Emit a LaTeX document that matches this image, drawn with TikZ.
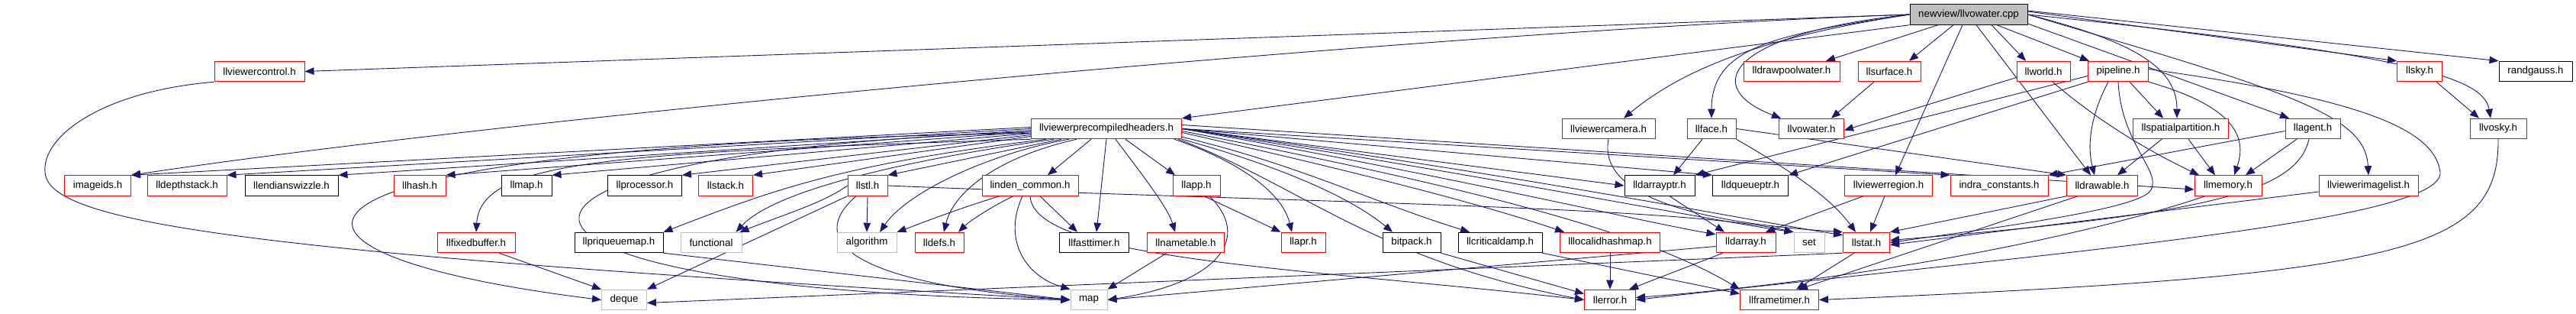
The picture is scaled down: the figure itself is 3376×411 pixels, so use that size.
\documentclass[tikz,border=0pt]{standalone}
\usepackage{fontspec}
\setmainfont{Liberation Sans}
\usetikzlibrary{arrows.meta,calc}
\definecolor{edgec}{HTML}{191970}
\definecolor{grayc}{HTML}{BFBFBF}
\pgfdeclarelayer{bg}
\pgfsetlayers{bg,main}
\tikzset{
 nb/.style={rectangle, draw, line width=1pt, minimum height=26.5pt, inner sep=0pt, fill=white, font=\fontsize{13.3}{15}\selectfont, text=black},
 rn/.style={nb, draw=red},
 bn/.style={nb, draw=black},
 gn/.style={nb, draw=grayc},
 rootn/.style={nb, draw=black, fill=grayc},
 e/.style={draw=edgec, line width=0.9pt, -{Triangle[length=12pt,width=9.5pt]}}
}
\begin{document}
\begin{tikzpicture}[x=1pt,y=-1pt]
\useasboundingbox (0,0) rectangle (3376,411);
% row 0
\node[rootn, minimum width=154pt] (R) at (2580,19) {newview/llvowater.cpp};
% row 1
\node[rn, minimum width=118pt] (vctrl) at (340,93.5) {llviewercontrol.h};
\node[rn, minimum width=126pt] (dpw) at (2348,93.5) {lldrawpoolwater.h};
\node[rn, minimum width=82pt] (surf) at (2476,93.5) {llsurface.h};
\node[rn, minimum width=70pt] (world) at (2678,93.5) {llworld.h};
\node[rn, minimum width=79pt] (pipe) at (2776,93.5) {pipeline.h};
\node[rn, minimum width=59pt] (sky) at (3171,93.5) {llsky.h};
\node[bn, minimum width=96pt] (rg) at (3323,93.5) {randgauss.h};
% row 2
\node[rn, minimum width=197pt] (vph) at (1450,168.5) {llviewerprecompiledheaders.h};
\node[rn, minimum width=122pt] (vcam) at (2108,168.5) {llviewercamera.h};
\node[rn, minimum width=64pt] (face) at (2243,168.5) {llface.h};
\node[rn, minimum width=85pt] (vow) at (2374,168.5) {llvowater.h};
\node[rn, minimum width=125pt] (spat) at (2858,168.5) {llspatialpartition.h};
\node[rn, minimum width=72pt] (agent) at (3031,168.5) {llagent.h};
\node[rn, minimum width=74pt] (vosky) at (3274,168.5) {llvosky.h};
% row 3
\node[rn, minimum width=87pt] (imgids) at (128,243) {imageids.h};
\node[rn, minimum width=104pt] (dstack) at (245,243) {lldepthstack.h};
\node[bn, minimum width=122pt] (endian) at (382,243) {llendianswizzle.h};
\node[rn, minimum width=68pt] (hash) at (550,243) {llhash.h};
\node[bn, minimum width=66pt] (lmap) at (690,243) {llmap.h};
\node[bn, minimum width=97pt] (proc) at (845,243) {llprocessor.h};
\node[rn, minimum width=71pt] (stack) at (951,243) {llstack.h};
\node[rn, minimum width=52pt] (stl) at (1137,243) {llstl.h};
\node[rn, minimum width=126pt] (lcommon) at (1350,243) {linden\_common.h};
\node[rn, minimum width=62pt] (app) at (1568,243) {llapp.h};
\node[bn, minimum width=92pt] (darrptr) at (2175,243) {lldarrayptr.h};
\node[bn, minimum width=99pt] (dq) at (2294,243) {lldqueueptr.h};
\node[rn, minimum width=115pt] (vreg) at (2475,243) {llviewerregion.h};
\node[rn, minimum width=128pt] (indra) at (2620,243) {indra\_constants.h};
\node[rn, minimum width=93pt] (drawable) at (2755,243) {lldrawable.h};
\node[rn, minimum width=88pt] (mem) at (2920,243) {llmemory.h};
\node[rn, minimum width=130pt] (vil) at (3104,243) {llviewerimagelist.h};
% row 4
\node[rn, minimum width=102pt] (fixbuf) at (624,317.5) {llfixedbuffer.h};
\node[bn, minimum width=116pt] (prq) at (811,317.5) {llpriqueuemap.h};
\node[gn, minimum width=80pt] (func) at (932,317.5) {functional};
\node[gn, minimum width=78pt] (algo) at (1136,317.5) {algorithm};
\node[rn, minimum width=64pt] (defs) at (1231,317.5) {lldefs.h};
\node[bn, minimum width=91pt] (ftimer) at (1434,317.5) {llfasttimer.h};
\node[rn, minimum width=101pt] (ntable) at (1554,317.5) {llnametable.h};
\node[rn, minimum width=58pt] (apr) at (1708,317.5) {llapr.h};
\node[bn, minimum width=76pt] (bitpack) at (1850,317.5) {bitpack.h};
\node[bn, minimum width=110pt] (cdamp) at (1966,317.5) {llcriticaldamp.h};
\node[rn, minimum width=131pt] (lid) at (2110,317.5) {lllocalidhashmap.h};
\node[rn, minimum width=78pt] (darr) at (2288,317.5) {lldarray.h};
\node[gn, minimum width=40pt] (set) at (2371,317.5) {set};
\node[rn, minimum width=61pt] (stat) at (2446,317.5) {llstat.h};
% row 5
\node[gn, minimum width=59pt] (deque) at (818,392.5) {deque};
\node[gn, minimum width=48pt] (map) at (1427,392.5) {map};
\node[rn, minimum width=67pt] (err) at (2110,392.5) {llerror.h};
\node[rn, minimum width=103pt] (frt) at (2332,392.5) {llframetimer.h};
\coordinate (vcw) at (59,225);
\coordinate (pw) at (2818,250);
\coordinate (pr) at (3198,225);

\begin{pgfonlayer}{bg}
\fill[white] (0,0) rectangle (3376,411);
% root
\draw[e] (R.west) -- (vctrl.east);
\draw[e] (R.west) .. controls (1900,40) and (700,150) .. (imgids.north east);
\draw[e] (R.south west) -- (vph.north east);
\draw[e] ([xshift=-40pt]R.south) -- ([xshift=45pt]dpw.north);
\draw[e] ([xshift=-20pt]R.south) -- ([xshift=26pt]surf.north);
\draw[e] (R.west) .. controls (2330,45) and (2243,60) .. (face.north);
\draw[e] (R.west) .. controls (2260,45) and (2230,115) .. ([xshift=-40pt]vow.north);
\draw[e] (R.west) .. controls (2300,50) and (2200,95) .. ([xshift=20pt]vcam.north);
\draw[e] ([xshift=-8pt]R.south) -- ([xshift=9pt]vreg.north);
\draw[e] ([xshift=10pt]R.south) -- ([xshift=-15pt]drawable.north);
\draw[e] ([xshift=30pt]R.south) -- ([xshift=-23pt]world.north);
\draw[e] ([xshift=37pt]R.south) -- ([xshift=-38pt]pipe.north);
\draw[e] (R.east) .. controls (2800,55) and (2853,90) .. ([xshift=-5pt]spat.north);
\draw[e] ([yshift=-12pt]R.east) -- ([xshift=-31pt]agent.north);
\draw[e] (R.east) .. controls (3000,120) and (3100,150) .. (vil.north);
\draw[e] ([yshift=4pt]R.east) -- (sky.north west);
\draw[e] (R.east) .. controls (3150,70) and (3255,100) .. ([xshift=-10pt]vosky.north);
\draw[e] ([yshift=5pt]R.east) -- (rg.north west);
% precompiled headers, left
\draw[e] ([yshift=2pt]vph.west) -- (imgids.north east);
\draw[e] (vph.west) -- (dstack.north east);
\draw[e] ([yshift=-2pt]vph.west) -- (endian.north east);
\draw[e] ([yshift=-4pt]vph.west) -- (hash.north east);
\draw[e] ([yshift=-6pt]vph.west) -- (lmap.north east);
\draw[e] ([yshift=-8pt]vph.west) -- (proc.north east);
\draw[e] ([yshift=-10pt]vph.west) -- (stack.north east);
\draw[e] (vph.south west) .. controls (800,200) and (630,210) .. (fixbuf.north);
\draw[e] ([xshift=20pt]vph.south west) .. controls (1100,215) and (1010,250) .. (prq.north east);
\draw[e] ([xshift=30pt]vph.south west) .. controls (1150,215) and (1010,255) .. ([xshift=-8pt]func.north east);
\draw[e] ([xshift=40pt]vph.south west) -- (stl.north east);
\draw[e] ([xshift=50pt]vph.south west) .. controls (1300,200) and (1190,250) .. ([xshift=17pt]algo.north);
\draw[e] ([xshift=60pt]vph.south west) .. controls (1310,205) and (1250,250) .. ([xshift=6pt]defs.north);
\draw[e] ([xshift=-20pt]vph.south) -- ([xshift=23pt]lcommon.north);
\draw[e] (vph.south) -- ([xshift=3pt]ftimer.north);
\draw[e] ([xshift=12pt]vph.south) .. controls (1490,220) and (1530,270) .. ([xshift=-14pt]ntable.north);
\draw[e] ([xshift=25pt]vph.south) -- ([xshift=-28pt]app.north);
\draw[e] ([yshift=-4pt]vph.west) .. controls (550,200) and (560,380) .. (map.west);
\draw[e] ([yshift=-6pt]vph.west) .. controls (300,190) and (280,330) .. (deque.west);
% precompiled headers, right
\draw[e] ([xshift=-10pt]vph.south east) .. controls (1620,210) and (1680,250) .. ([xshift=-15pt]apr.north);
\draw[e] (vph.south east) .. controls (1650,210) and (1760,250) .. ([xshift=-25pt]bitpack.north);
\draw[e] ([yshift=3pt]vph.south east) .. controls (1700,215) and (1800,265) .. ([xshift=-40pt]cdamp.north);
\draw[e] ([yshift=-5pt]vph.east) .. controls (1800,230) and (1950,270) .. ([xshift=-60pt]lid.north);
\draw[e] (vph.east) -- (darrptr.west);
\draw[e] (vph.east) -- (dq.north west);
\draw[e] (vph.east) -- (indra.north west);
\draw[e] (vph.east) .. controls (1900,230) and (2150,290) .. ([yshift=-3pt]darr.north west);
\draw[e] (vph.east) .. controls (1950,230) and (2250,290) .. (set.north west);
\draw[e] (vph.east) .. controls (2000,230) and (2300,290) .. ([yshift=-4pt]stat.north west);
\draw[e] ([yshift=5pt]vph.east) -- ([yshift=-5pt]mem.west);
\draw[e] ([xshift=-5pt]vph.south east) .. controls (1700,240) and (1800,340) .. (err.west);
\draw[e] ([yshift=-3pt]vph.east) .. controls (1900,240) and (2150,300) .. (frt.north west);
% viewer control
\draw[e] (vctrl.south west) .. controls (130,120) and (55,180) .. (vcw) .. controls (62,290) and (300,330) .. (map.west);
% stl
\draw[e] (stl.south) -- (algo.north);
\draw[e] ([xshift=-15pt]stl.south) .. controls (1060,310) and (1100,370) .. (map.west);
\draw[e] (stl.south west) -- (deque.north east);
\draw[e] (stl.west) .. controls (1080,265) and (1030,280) .. ([xshift=-3pt]func.north east);
\draw[e] (stl.east) .. controls (1700,265) and (2200,270) .. (set.north west);
% linden_common
\draw[e] ([xshift=-40pt]lcommon.south) .. controls (1250,275) and (1200,295) .. (algo.north east);
\draw[e] ([xshift=-22pt]lcommon.south) .. controls (1300,270) and (1270,290) .. ([xshift=25pt]defs.north);
\draw[e] ([xshift=13pt]lcommon.south) -- ([xshift=-22pt]ftimer.north);
\draw[e] ([xshift=-10pt]lcommon.south) .. controls (1315,310) and (1340,360) .. (map.north west);
\draw[e] (lcommon.south) .. controls (1355,340) and (1700,350) .. (err.west);
% app etc
\draw[e] ([xshift=10pt]app.south) -- (apr.north west);
\draw[e] ([xshift=17pt]app.south) .. controls (1640,310) and (1600,370) .. (map.east);
\draw[e] ([xshift=-25pt]ntable.south) -- (map.north east);
\draw[e] (prq.south east) -- (map.west);
\draw[e] ([xshift=30pt]fixbuf.south) -- (deque.north west);
% face, camera, region
\draw[e] ([xshift=-12pt]face.south) -- ([xshift=18pt]darrptr.north);
\draw[e] (face.south east) .. controls (2350,225) and (2400,260) .. ([xshift=-14pt]stat.north);
\draw[e] (face.east) -- (drawable.north west);
\draw[e] ([xshift=13pt]darrptr.south) -- ([xshift=-28pt]darr.north);
\draw[e] (vcam.south) .. controls (2095,250) and (2200,290) .. (stat.north west);
\draw[e] ([xshift=-33pt]vreg.south) -- ([xshift=26pt]darr.north);
\draw[e] ([xshift=-5pt]vreg.south) -- ([xshift=5pt]stat.north);
\draw[e] ([xshift=-20pt]surf.south) -- ([xshift=26pt]vow.north);
\draw[e] ([yshift=-8pt]world.west) -- ([yshift=-2pt]vow.east);
\draw[e] ([xshift=12pt]world.south) .. controls (2740,150) and (2800,190) .. ([xshift=-38pt]mem.north);
% pipeline
\draw[e] (pipe.south west) -- (dq.north east);
\draw[e] ([yshift=-6pt]pipe.west) -- (darrptr.north east);
\draw[e] ([xshift=-13pt]pipe.south) .. controls (2740,150) and (2735,190) .. ([xshift=-10pt]drawable.north);
\draw[e] ([xshift=15pt]pipe.south) -- ([xshift=-23pt]spat.north);
\draw[e] (pipe.south east) .. controls (2930,140) and (2945,180) .. ([xshift=8pt]mem.north);
\draw[e] (pipe.south) .. controls (2780,190) and (2835,225) .. (pw) .. controls (2800,275) and (2600,300) .. (stat.east);
\draw[e] ([yshift=3pt]pipe.east) .. controls (3100,130) and (3190,170) .. (pr) .. controls (3205,290) and (2700,330) .. (err.east);
% spatial partition, agent, drawable
\draw[e] ([xshift=-25pt]spat.south) -- ([xshift=20pt]drawable.north);
\draw[e] ([xshift=10pt]spat.south) -- ([xshift=-17pt]mem.north);
\draw[e] ([xshift=-21pt]agent.south) -- ([xshift=23pt]mem.north);
\draw[e] ([yshift=-3pt]agent.west) -- (indra.north east);
\draw[e] ([xshift=-5pt]agent.south) .. controls (3010,250) and (2900,280) .. ([yshift=3pt]stat.east);
\draw[e] (drawable.south west) -- (stat.north east);
\draw[e] ([xshift=-32pt]drawable.south) -- ([xshift=25pt]frt.north);
\draw[e] ([yshift=-8pt]vil.west) -- ([yshift=-3pt]stat.east);
\draw[e] ([xshift=-30pt]mem.south) .. controls (2700,320) and (2400,370) .. ([yshift=3pt]err.east);
\draw[e] ([xshift=-8pt]sky.south east) -- ([xshift=-25pt]vosky.north);
\draw[e] (vosky.south) .. controls (3275,330) and (3150,360) .. (frt.east);
% bottom level
\draw[e] ([xshift=-16pt]stat.south) -- ([xshift=22pt]frt.north);
\draw[e] (stat.south west) -- ([yshift=-4pt]deque.east);
\draw[e] ([yshift=-5pt]darr.west) -- (map.east);
\draw[e] ([xshift=-30pt]darr.south) -- ([xshift=25pt]err.north);
\draw[e] (lid.south) -- (err.north);
\draw[e] (bitpack.south east) -- ([yshift=8pt]err.west);
\draw[e] (cdamp.south east) -- ([yshift=8pt]frt.west);
\end{pgfonlayer}
\end{tikzpicture}
\end{document}
